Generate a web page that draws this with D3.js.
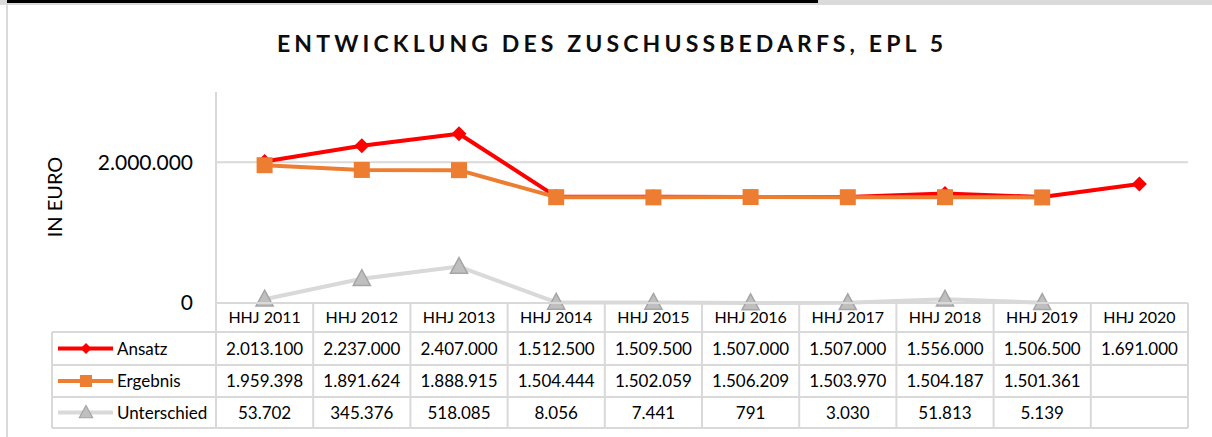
<!DOCTYPE html>
<html lang="de">
<head>
<meta charset="utf-8">
<script src="https://cdn.jsdelivr.net/npm/d3@7"></script>
<style>
  html, body { margin: 0; padding: 0; background: #fff; }
  svg { display: block; }
  text { font-family: Lato, "Open Sans", sans-serif; }
</style>
</head>
<body>
<svg id="chart" width="1212" height="437"></svg>
<script>
// Haushaltsjahre und Werte (Euro)
const years = ["HHJ 2011", "HHJ 2012", "HHJ 2013", "HHJ 2014", "HHJ 2015",
               "HHJ 2016", "HHJ 2017", "HHJ 2018", "HHJ 2019", "HHJ 2020"];
const ansatz = [2013100, 2237000, 2407000, 1512500, 1509500, 1507000, 1507000, 1556000, 1506500, 1691000];
const ergebnis = [1959398, 1891624, 1888915, 1504444, 1502059, 1506209, 1503970, 1504187, 1501361, null];
const unterschied = [53702, 345376, 518085, 8056, 7441, 791, 3030, 51813, 5139, null];
const yTicks = [0, 2000000];
const chartTitle = "ENTWICKLUNG DES ZUSCHUSSBEDARFS, EPL 5";
const yTitle = "IN EURO";

const de = d3.formatLocale({ decimal: ",", thousands: ".", grouping: [3], currency: ["", " €"] });
const fmt = de.format(",d");

const svg = d3.select("#chart");
const W = 1212, H = 437;
const gridColor = "#d9d9d9";

// Rahmen oben und links
svg.append("rect").attr("x", 0).attr("y", 0).attr("width", W).attr("height", 5).attr("fill", "#dadada");
svg.append("rect").attr("x", 7).attr("y", 0).attr("width", 811).attr("height", 3).attr("fill", "#000");
svg.append("rect").attr("x", 6).attr("y", 3).attr("width", 2).attr("height", H - 3).attr("fill", "#dadada");

// Titel
svg.append("text")
  .attr("x", 277).attr("y", 52)
  .attr("textLength", 666).attr("lengthAdjust", "spacing")
  .attr("font-size", 23).attr("font-weight", 700).attr("fill", "#0d0d0d")
  .text(chartTitle);

// Skalen
const x = d3.scaleBand().domain(years).range([216, 1188]);
const y = d3.scaleLinear().domain([0, 3000000]).range([303, 92]);
const cx = d => x(d) + x.bandwidth() / 2;

// Gitternetz und Achse
const yAxis = d3.axisLeft(y).tickValues(yTicks).tickFormat(fmt).tickSize(0).tickPadding(23);
const ag = svg.append("g").attr("transform", "translate(216,0)").call(yAxis);
ag.select(".domain").remove();
ag.selectAll("text").attr("font-size", 21).attr("fill", "#000").attr("font-family", "Lato, sans-serif");

svg.append("g").selectAll("line").data(yTicks.filter(t => t > 0)).join("line")
  .attr("x1", 216).attr("x2", 1188)
  .attr("y1", d => y(d)).attr("y2", d => y(d))
  .attr("stroke", gridColor).attr("stroke-width", 2);
svg.append("line").attr("x1", 216).attr("x2", 216).attr("y1", y.range()[1]).attr("y2", 303)
  .attr("stroke", gridColor).attr("stroke-width", 2);

// Achsentitel
svg.append("text")
  .attr("transform", "translate(62,197) rotate(-90)")
  .attr("text-anchor", "middle").attr("font-size", 20).attr("fill", "#000")
  .text(yTitle);

// Marker
const diamond = (s) => `M0,${-s}L${s},0L0,${s}L${-s},0Z`;
const square = (s) => `M${-s},${-s}H${s}V${s}H${-s}Z`;
const triangle = (s) => `M0,${-s}L${s * 0.95},${s * 0.75}H${-s * 0.95}Z`;

const series = [
  { name: "Ansatz", values: ansatz, color: "#ff0000", marker: diamond, size: 7.5, legendSize: 5.5, fill: "#ff0000", stroke: "none" },
  { name: "Ergebnis", values: ergebnis, color: "#ed7d31", marker: square, size: 8, legendSize: 6, fill: "#ed7d31", stroke: "none" },
  { name: "Unterschied", values: unterschied, color: "#d9d9d9", marker: triangle, size: 9, legendSize: 7, fill: "#bfbfbf", stroke: "#a5a5a5" }
];

const line = d3.line()
  .defined(d => d.v != null)
  .x(d => cx(d.year)).y(d => y(d.v));

series.forEach(s => {
  const pts = years.map((yr, i) => ({ year: yr, v: s.values[i] }));
  svg.append("path").datum(pts)
    .attr("d", line).attr("fill", "none")
    .attr("stroke", s.color).attr("stroke-width", 4).attr("stroke-linejoin", "round");
  svg.append("g").selectAll("path").data(pts.filter(d => d.v != null)).join("path")
    .attr("transform", d => `translate(${cx(d.year)},${y(d.v)})`)
    .attr("d", s.marker(s.size))
    .attr("fill", s.fill).attr("stroke", s.stroke).attr("stroke-width", 1.5);
});

// Datentabelle
const rowTops = [303, 332, 365, 397, 428];
const tableLeft = 52;
const tg = svg.append("g").attr("stroke", gridColor).attr("stroke-width", 2);
rowTops.forEach((ry, i) => {
  tg.append("line").attr("x1", i === 0 ? 216 : tableLeft).attr("x2", 1188).attr("y1", ry).attr("y2", ry);
});
tg.append("line").attr("x1", tableLeft).attr("x2", tableLeft).attr("y1", rowTops[1]).attr("y2", rowTops[4]);
[...years.map(yr => x(yr)), 1188].forEach(vx => {
  tg.append("line").attr("x1", vx).attr("x2", vx).attr("y1", rowTops[0]).attr("y2", rowTops[4]);
});

const rowMid = i => (rowTops[i] + rowTops[i + 1]) / 2;

// Kopfzeile
svg.append("g").selectAll("text").data(years).join("text")
  .attr("x", d => cx(d)).attr("y", rowMid(0)).attr("dy", "0.36em")
  .attr("text-anchor", "middle").attr("font-size", 16).attr("fill", "#000")
  .text(d => d);

// Wertezeilen mit Legende
series.forEach((s, si) => {
  const ry = rowMid(si + 1);
  svg.append("line").attr("x1", 58).attr("x2", 113).attr("y1", ry).attr("y2", ry)
    .attr("stroke", s.color).attr("stroke-width", 4);
  svg.append("path").attr("transform", `translate(86,${ry})`).attr("d", s.marker(s.legendSize))
    .attr("fill", s.fill).attr("stroke", s.stroke).attr("stroke-width", 1.2);
  svg.append("text").attr("x", 117).attr("y", ry).attr("dy", "0.36em")
    .attr("font-size", 17).attr("fill", "#000").text(s.name);
  svg.append("g").selectAll("text").data(years.map((yr, i) => ({ yr, v: s.values[i] })).filter(d => d.v != null))
    .join("text")
    .attr("x", d => cx(d.yr)).attr("y", ry).attr("dy", "0.36em")
    .attr("text-anchor", "middle").attr("font-size", 17).attr("fill", "#000")
    .text(d => fmt(d.v));
});
</script>
</body>
</html>
